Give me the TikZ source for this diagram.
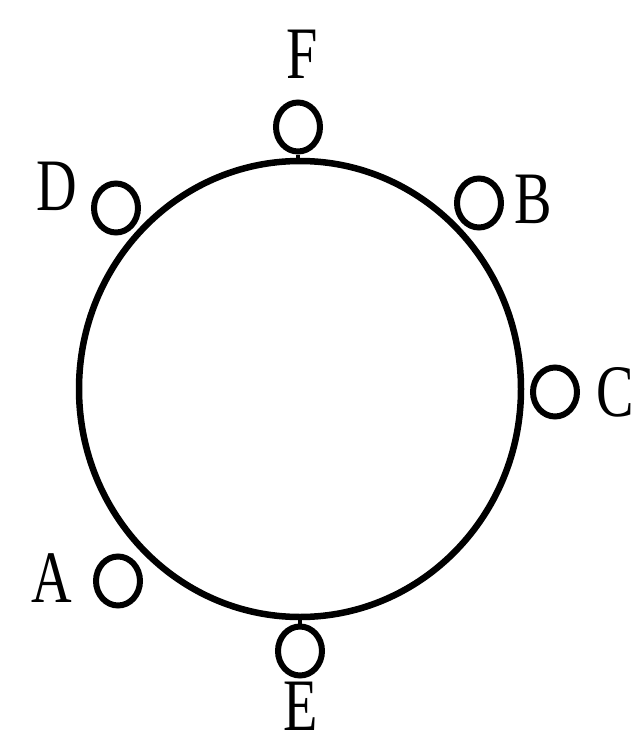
\documentclass[tikz,border=0pt]{standalone}
\usepackage{fontspec}
\setmainfont{Liberation Serif}
\usetikzlibrary{positioning, shapes.geometric}
\tikzset{
  ring/.style={draw, ellipse, line width=6.5pt, minimum width=442pt, minimum height=456pt, inner sep=0pt},
  pin/.style={draw, ellipse, line width=6pt, minimum width=44pt, minimum height=49pt, inner sep=0pt},
  tag/.style={font=\fontsize{74}{74}\selectfont, xscale=0.76, inner sep=0pt},
  stem/.style={line width=4pt}
}

\begin{document}
\begin{tikzpicture}[x=1pt, y=-1pt]
  \useasboundingbox (0,0) rectangle (638,749);
  \node[ring] (ring) at (300,389) {};
  % small rings round the big one
  \foreach \nm/\px/\py in {F/298/127, D/116/208, B/479/203,
                           C/555/392, A/118/581, E/300/651}{%
    \node[pin] (\nm) at (\px,\py) {};}
  \draw[stem] (F.south) -- (F.south |- ring.north);
  \draw[stem] (E.north) -- (E.north |- ring.south);
  \node[tag] (labF) at (302,54) {F};
  \node[tag] (labD) at (57,186) {D};
  \node[tag] (labB) at (533,199) {B};
  \node[tag] (labC) at (615,392) {C};
  \node[tag] (labA) at (52,578) {A};
  \node[tag] (labE) at (301,706) {E};
\end{tikzpicture}
\end{document}
